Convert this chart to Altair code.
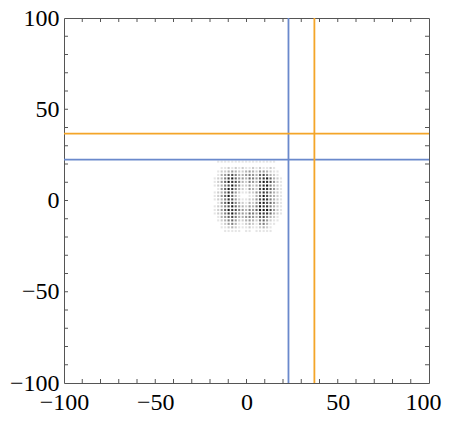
import altair as alt
import pandas as pd

# cell centres of the central dot pattern (data units)
xs = [-17.4, -15.5, -13.6, -11.7, -9.8, -7.8, -5.9, -4.0, -2.1, -0.2,
      1.7, 3.6, 5.5, 7.4, 9.4, 11.3, 13.2, 15.1, 17.0, 18.9]
ys = [21.3, 19.7, 17.8, 15.9, 14.0, 12.1, 10.2, 8.2, 6.3, 4.4, 2.5,
      0.6, -1.3, -3.2, -5.2, -7.1, -9.0, -10.9, -12.8, -14.7, -16.7]
# darkness of each cell, 0..9, rows top to bottom
cells = [
    "01111111111111111100",
    "00000000000000000000",
    "00112121211212112100",
    "01223432234324432110",
    "01346753345436753210",
    "12358964436546896321",
    "12469875325437987421",
    "12357964224236895321",
    "01469853214327986421",
    "12358742112246875321",
    "12469631001136974321",
    "12358742112247985321",
    "01469853213248976421",
    "12357964324359885321",
    "12469875435469997421",
    "12358964436548886321",
    "01346753345436753210",
    "01235642234325642110",
    "00124531123214531100",
    "00112321112112321000",
    "00011111011011111000",
]

blue_x = [23.0]
blue_y = [22.4]
orange_x = [37.2]
orange_y = [36.6]

label_vals = [-100, -50, 0, 50, 100]
tick_vals = [-90, -80, -70, -60, -50, -40, -30, -20, -10, 0,
             10, 20, 30, 40, 50, 60, 70, 80, 90]

W = 365
H = 365
BLUE = "#6A89CC"
ORANGE = "#F4A529"
FRAME = "#555555"
FONT = "Liberation Serif"

rows = []
for r, line in enumerate(cells):
    for c, ch in enumerate(line):
        v = int(ch)
        if v > 0:
            rows.append({"x": xs[c], "y": ys[r], "o": 0.9 * v / 9.0})
dots = pd.DataFrame(rows)

sx = alt.Scale(domain=[-100, 100], nice=False, zero=False)
sy = alt.Scale(domain=[-100, 100], nice=False, zero=False)
ax = alt.Axis(values=label_vals, ticks=False, domain=False, grid=False,
              title=None, labelFont=FONT, labelFontSize=24, labelColor="black",
              labelPadding=7, labelFlush=False, labelOverlap=False,
              labelOffset={"condition": {"test": "datum.value == 100", "value": -6},
                           "value": 0})
ay = alt.Axis(values=label_vals, ticks=False, domain=False, grid=False,
              title=None, labelFont=FONT, labelFontSize=24, labelColor="black",
              labelPadding=5, labelFlush=False, labelOverlap=False)

dot_layer = alt.Chart(dots).mark_square(size=4.5, color="black").encode(
    x=alt.X("x:Q", scale=sx, axis=ax),
    y=alt.Y("y:Q", scale=sy, axis=ay),
    opacity=alt.Opacity("o:Q", scale=None, legend=None),
)

def vline(vals, color):
    return alt.Chart(pd.DataFrame({"x": vals})).mark_rule(
        color=color, strokeWidth=1.8).encode(x=alt.X("x:Q", scale=sx))

def hline(vals, color):
    return alt.Chart(pd.DataFrame({"y": vals})).mark_rule(
        color=color, strokeWidth=1.8).encode(y=alt.Y("y:Q", scale=sy))

tx = pd.DataFrame({"x": tick_vals})
ty = pd.DataFrame({"y": tick_vals})
tick_bottom = alt.Chart(tx).mark_rule(color=FRAME, strokeWidth=1).encode(
    x=alt.X("x:Q", scale=sx), y=alt.value(H), y2=alt.value(H - 4))
tick_top = alt.Chart(tx).mark_rule(color=FRAME, strokeWidth=1).encode(
    x=alt.X("x:Q", scale=sx), y=alt.value(0), y2=alt.value(4))
tick_left = alt.Chart(ty).mark_rule(color=FRAME, strokeWidth=1).encode(
    y=alt.Y("y:Q", scale=sy), x=alt.value(0), x2=alt.value(4))
tick_right = alt.Chart(ty).mark_rule(color=FRAME, strokeWidth=1).encode(
    y=alt.Y("y:Q", scale=sy), x=alt.value(W), x2=alt.value(W - 4))

chart = alt.layer(
    dot_layer,
    vline(blue_x, BLUE), hline(blue_y, BLUE),
    vline(orange_x, ORANGE), hline(orange_y, ORANGE),
    tick_bottom, tick_top, tick_left, tick_right,
).properties(
    width=W, height=H,
    autosize=alt.AutoSizeParams(type="none"),
    padding={"left": 56, "top": 10, "right": 13, "bottom": 32},
).configure_view(
    stroke=FRAME, strokeWidth=1
).configure_axis(
    ticks=False, grid=False, domain=False
)

chart.save("out.html", embed_options={"renderer": "svg", "actions": False})
